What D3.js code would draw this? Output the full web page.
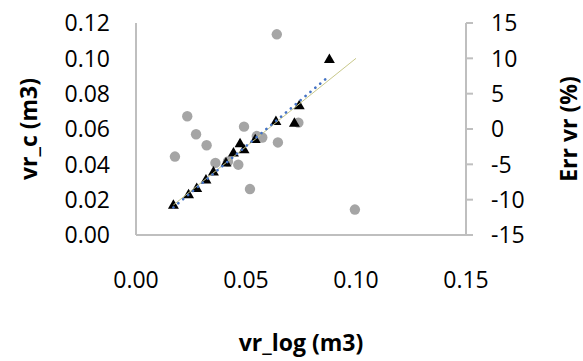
<!DOCTYPE html>
<html><head><meta charset="utf-8">
<script src="https://cdn.jsdelivr.net/npm/d3@7"></script>
<style>
html,body{margin:0;padding:0;background:#fff;}
text{font-family:"Open Sans",sans-serif;fill:#000;}
</style></head>
<body><svg id="c" width="583" height="361"></svg>
<script>
// vr_log vs vr_c (triangles, left axis)
const triX = [0.0170,0.0239,0.0276,0.0318,0.0352,0.0409,0.0443,0.0473,0.0491,0.0542,0.0636,0.0720,0.0742,0.0879];
const triY = [0.0166,0.0226,0.0262,0.0310,0.0355,0.0406,0.0462,0.0515,0.0481,0.0538,0.0640,0.0631,0.0730,0.0991];
// vr_log vs Err vr (%) (circles, right axis)
const errX = [0.0177,0.0233,0.0273,0.0321,0.0361,0.0418,0.0465,0.0491,0.0518,0.0549,0.0574,0.0640,0.0645,0.0738,0.0995];
const errY = [-3.9,1.8,-0.75,-2.3,-4.8,-4.6,-5.05,0.33,-8.5,-1.0,-1.2,13.4,-1.9,0.9,-11.4];
// 1:1 line
const oneX = [0.017,0.10];
const xTicks = [0,0.05,0.10,0.15];
const yTicks = [0,0.02,0.04,0.06,0.08,0.10,0.12];
const y2Ticks = [-15,-10,-5,0,5,10,15];

const svg = d3.select("#c");
const L=136,R=466,T=23,B=235;
const x = d3.scaleLinear().domain([0,0.15]).range([L,R]);
const y = d3.scaleLinear().domain([0,0.12]).range([B,T]);
const y2 = d3.scaleLinear().domain([-15,15]).range([B,T]);
const axisColor="#BFBFBF";

// axes lines
const g = svg.append("g");
g.append("line").attr("x1",L).attr("x2",L).attr("y1",T).attr("y2",B).attr("stroke",axisColor).attr("stroke-width",2);
g.append("line").attr("x1",L).attr("x2",R+7).attr("y1",B).attr("y2",B).attr("stroke",axisColor).attr("stroke-width",2);
g.append("line").attr("x1",R).attr("x2",R).attr("y1",T).attr("y2",B).attr("stroke",axisColor).attr("stroke-width",2);
g.selectAll(".t2").data(y2Ticks).enter().append("line")
 .attr("x1",R).attr("x2",R+7).attr("y1",d=>y2(d)).attr("y2",d=>y2(d)).attr("stroke",axisColor).attr("stroke-width",2);

const fs=23;
svg.selectAll(".yl").data(yTicks).enter().append("text")
 .attr("x",110).attr("y",d=>y(d)).attr("dy","0.36em").attr("text-anchor","end").attr("font-size",fs)
 .text(d=>d3.format(".2f")(d));
svg.selectAll(".y2l").data(y2Ticks).enter().append("text")
 .attr("x",491).attr("y",d=>y2(d)).attr("dy","0.36em").attr("text-anchor","start").attr("font-size",fs)
 .text(d=>d);
svg.selectAll(".xl").data(xTicks).enter().append("text")
 .attr("x",d=>x(d)).attr("y",280).attr("dy","0.36em").attr("text-anchor","middle").attr("font-size",fs)
 .text(d=>d3.format(".2f")(d));

svg.append("text").attr("transform","translate(29,129) rotate(-90)").attr("text-anchor","middle").attr("dy","0.35em")
 .attr("font-size",fs).attr("font-weight","bold").text("vr_c (m3)");
svg.append("text").attr("transform","translate(569,129) rotate(-90)").attr("text-anchor","middle").attr("dy","0.35em")
 .attr("font-size",fs).attr("font-weight","bold").text("Err vr (%)");
svg.append("text").attr("x",301).attr("y",343).attr("text-anchor","middle").attr("dy","0.35em")
 .attr("font-size",fs).attr("font-weight","bold").text("vr_log (m3)");

// circles
svg.selectAll(".c").data(errX.map((d,i)=>[d,errY[i]])).enter().append("circle")
 .attr("cx",d=>x(d[0])).attr("cy",d=>y2(d[1])).attr("r",5.2).attr("fill","#A5A5A5");
// triangles
const tri = d3.symbol(d3.symbolTriangle,52);
svg.selectAll(".tr").data(triX.map((d,i)=>[d,triY[i]])).enter().append("path")
 .attr("d",tri).attr("transform",d=>`translate(${x(d[0])},${y(d[1])})`).attr("fill","#000");
// 1:1 line
svg.append("line").attr("x1",x(oneX[0])).attr("y1",y(oneX[0])).attr("x2",x(oneX[1])).attr("y2",y(oneX[1]))
 .attr("stroke","#C8C88A").attr("stroke-width",1);
// linear trend of triangles
const n=triX.length, mx=d3.mean(triX), my=d3.mean(triY);
let sxy=0,sxx=0; for(let i=0;i<n;i++){sxy+=(triX[i]-mx)*(triY[i]-my); sxx+=(triX[i]-mx)**2;}
const slope=sxy/sxx, icpt=my-slope*mx;
const x0=d3.min(triX), x1=d3.max(triX);
svg.append("line").attr("x1",x(x0)).attr("y1",y(icpt+slope*x0)).attr("x2",x(x1)).attr("y2",y(icpt+slope*x1))
 .attr("stroke","#4472C4").attr("stroke-width",2.6).attr("stroke-linecap","round").attr("stroke-dasharray","0.1 6.3");
</script></body></html>
